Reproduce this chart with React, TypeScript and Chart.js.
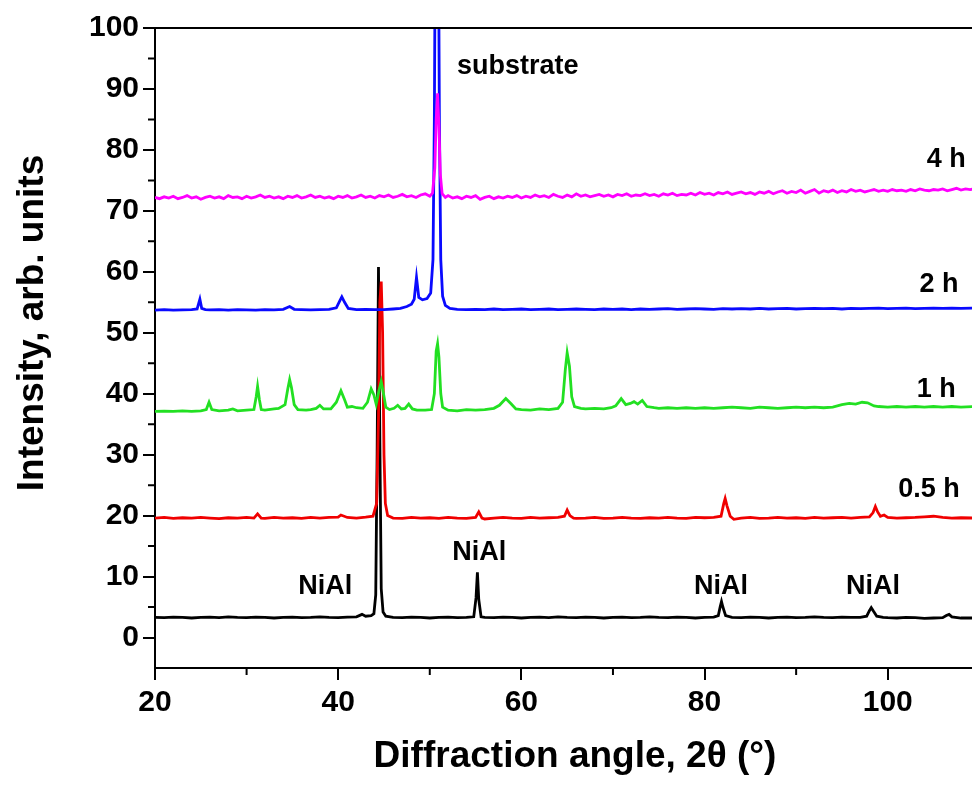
import { useEffect, useRef } from "react";
import { Chart, registerables } from "chart.js";

Chart.register(...registerables);

type P = [number, number];

// 2θ (deg), intensity (arb. units)
const pattern4h: P[] = [
  [20, 72.2], [20.5, 72.0], [21, 72.3], [21.5, 72.1], [22, 72.4], [22.5, 72.0], [23, 72.2], [23.5, 72.5],
  [24, 72.1], [24.5, 72.3], [25, 71.9], [25.5, 72.2], [26, 72.4], [26.5, 72.1], [27, 72.3], [27.5, 72.0],
  [28, 72.5], [28.5, 72.2], [29, 72.3], [29.5, 72.0], [30, 72.4], [30.5, 72.1], [31, 72.3], [31.5, 72.6],
  [32, 72.2], [32.5, 72.4], [33, 72.1], [33.5, 72.3], [34, 72.0], [34.5, 72.4], [35, 72.2], [35.5, 72.5],
  [36, 72.1], [36.5, 72.3], [37, 72.6], [37.5, 72.2], [38, 72.4], [38.5, 72.1], [39, 72.3], [39.5, 72.0],
  [40, 72.4], [40.5, 72.2], [41, 72.5], [41.5, 72.1], [42, 72.3], [42.5, 72.6], [43, 72.2], [43.5, 72.4],
  [44, 72.1], [44.5, 72.5], [45, 72.3], [45.5, 72.6], [46, 72.2], [46.5, 72.4], [47, 72.7], [47.5, 72.3],
  [48, 72.5], [48.5, 72.2], [49, 72.6], [49.5, 72.8], [50, 72.4], [50.3, 72.9], [50.55, 77], [50.7, 85],
  [50.85, 89.3], [51.0, 84], [51.15, 76], [51.35, 72.8], [51.7, 72.2], [52, 72.5], [52.5, 72.1], [53, 72.3],
  [53.5, 72.0], [54, 72.4], [54.5, 72.2], [55, 72.5], [55.5, 71.9], [56, 72.2], [56.5, 72.4], [57, 72.0],
  [57.5, 72.3], [58, 72.1], [58.5, 72.4], [59, 72.2], [59.5, 72.5], [60, 72.1], [60.5, 72.4], [61, 72.2],
  [61.5, 72.6], [62, 72.3], [62.5, 72.5], [63, 72.2], [63.5, 72.7], [64, 72.4], [64.5, 72.2], [65, 72.6],
  [65.5, 72.3], [66, 72.8], [66.5, 72.4], [67, 72.6], [67.5, 72.3], [68, 72.5], [68.5, 72.7], [69, 72.4],
  [69.5, 72.6], [70, 72.3], [70.5, 72.7], [71, 72.5], [71.5, 72.8], [72, 72.4], [72.5, 72.6], [73, 72.5],
  [73.5, 72.8], [74, 72.5], [74.5, 72.7], [75, 72.4], [75.5, 72.8], [76, 72.6], [76.5, 72.9], [77, 72.5],
  [77.5, 72.7], [78, 72.6], [78.5, 72.9], [79, 72.6], [79.5, 73.0], [80, 72.7], [80.5, 72.9], [81, 72.6],
  [81.5, 73.0], [82, 72.8], [82.5, 73.1], [83, 72.7], [83.5, 72.9], [84, 73.1], [84.5, 72.8], [85, 73.0],
  [85.5, 72.7], [86, 73.1], [86.5, 72.9], [87, 73.2], [87.5, 72.8], [88, 73.1], [88.5, 73.3], [89, 72.9],
  [89.5, 73.2], [90, 73.0], [90.5, 73.4], [91, 72.9], [91.5, 73.2], [92, 73.5], [92.5, 72.9], [93, 73.3],
  [93.5, 73.1], [94, 73.4], [94.5, 73.0], [95, 73.3], [95.5, 73.1], [96, 73.5], [96.5, 73.2], [97, 73.4],
  [97.5, 73.1], [98, 73.3], [98.5, 73.5], [99, 73.2], [99.5, 73.4], [100, 73.2], [100.5, 73.5], [101, 73.3],
  [101.5, 73.4], [102, 73.2], [102.5, 73.5], [103, 73.3], [103.5, 73.6], [104, 73.4], [104.5, 73.3], [105, 73.5],
  [105.5, 73.4], [106, 73.6], [106.5, 73.3], [107, 73.5], [107.5, 73.7], [108, 73.4], [108.5, 73.6], [109, 73.5],
  [109.5, 73.6],
];

const pattern2h: P[] = [
  [20, 53.7], [21, 53.8], [22, 53.7], [23, 53.75], [24, 53.8], [24.6, 53.9], [24.9, 55.5], [25.1, 54.0],
  [25.5, 53.8], [26, 53.75], [27, 53.8], [28, 53.7], [29, 53.8], [30, 53.75], [31, 53.7], [32, 53.8],
  [33, 53.75], [34, 53.85], [34.7, 54.3], [35.2, 53.85], [36, 53.8], [37, 53.75], [38, 53.8], [39, 53.85],
  [39.8, 54.1], [40.2, 55.3], [40.4, 55.9], [40.7, 55.0], [41.1, 54.0], [42, 53.8], [43, 53.85], [44, 53.8],
  [45, 53.8], [46, 53.9], [46.8, 54.0], [47.5, 54.3], [48.0, 54.7], [48.3, 55.5], [48.55, 59.1], [48.8, 55.8],
  [49.2, 55.4], [49.7, 55.6], [50.1, 56.5], [50.35, 62], [50.5, 85], [50.6, 115], [50.95, 115], [51.05, 85],
  [51.2, 62], [51.4, 56], [51.7, 54.5], [52.2, 54.0], [53, 53.85], [54, 53.8], [55, 53.85], [56, 53.8],
  [57, 53.9], [58, 53.8], [59, 53.85], [60, 53.9], [61, 53.8], [62, 53.85], [63, 53.9], [64, 53.8],
  [65, 53.85], [66, 53.9], [67, 53.85], [68, 53.8], [69, 53.9], [70, 53.85], [71, 53.9], [72, 53.8],
  [73, 53.9], [74, 53.85], [75, 53.9], [76, 53.95], [77, 53.85], [78, 53.9], [79, 53.95], [80, 53.9],
  [81, 53.85], [82, 53.95], [83, 53.9], [84, 53.95], [85, 53.9], [86, 54.0], [87, 53.9], [88, 53.95],
  [89, 54.0], [90, 53.9], [91, 53.95], [92, 54.0], [93, 53.95], [94, 54.0], [95, 53.9], [96, 54.0],
  [97, 53.95], [98, 54.0], [99, 54.05], [100, 53.95], [101, 54.0], [102, 54.05], [103, 53.95], [104, 54.0],
  [105, 54.05], [106, 54.0], [107, 54.05], [108, 54.0], [109.5, 54.05],
];

const pattern1h: P[] = [
  [20, 37.1], [21, 37.15], [22, 37.1], [23, 37.2], [24, 37.1], [25, 37.2], [25.6, 37.4], [25.9, 38.6],
  [26.2, 37.4], [27, 37.2], [28, 37.3], [28.5, 37.5], [29, 37.2], [30, 37.3], [30.8, 37.4], [31.05, 39.5],
  [31.2, 41.2], [31.4, 39.0], [31.6, 37.4], [32, 37.3], [33, 37.5], [33.5, 37.6], [34.2, 38.2], [34.5, 40.8],
  [34.7, 42.3], [34.9, 41.0], [35.2, 38.2], [35.6, 37.4], [36.5, 37.3], [37, 37.4], [37.6, 37.6], [38.0, 38.1],
  [38.4, 37.5], [39.2, 37.5], [39.8, 38.6], [40.3, 40.5], [40.7, 39.0], [41.0, 37.8], [41.5, 37.9], [42, 37.7],
  [42.7, 37.6], [43.2, 38.6], [43.6, 40.8], [43.9, 39.8], [44.15, 38.3], [44.45, 40.5], [44.7, 42.0], [44.95, 40.0],
  [45.2, 37.8], [45.6, 37.4], [46.1, 37.6], [46.5, 38.1], [46.9, 37.5], [47.3, 37.6], [47.7, 38.3], [48.1, 37.5],
  [48.6, 37.3], [49.5, 37.3], [50.2, 37.4], [50.5, 40.0], [50.7, 47.0], [50.85, 48.2], [51.0, 46.0], [51.2, 40.0],
  [51.4, 37.8], [52, 37.3], [53, 37.2], [54, 37.4], [55, 37.3], [56, 37.4], [57, 37.6], [57.6, 38.1],
  [58.3, 39.2], [58.9, 38.3], [59.4, 37.5], [60, 37.4], [61, 37.3], [62, 37.5], [63, 37.4], [64, 37.6],
  [64.5, 38.6], [64.8, 44.0], [65.0, 46.7], [65.25, 44.5], [65.5, 39.5], [65.8, 37.9], [66.5, 37.6], [67, 37.5],
  [68, 37.6], [69, 37.5], [69.8, 37.7], [70.3, 38.0], [70.9, 39.2], [71.4, 38.2], [71.9, 38.4], [72.3, 38.7],
  [72.7, 38.3], [73.2, 38.9], [73.7, 37.9], [74.5, 37.7], [75, 37.6], [76, 37.7], [77, 37.6], [78, 37.7],
  [79, 37.6], [80, 37.7], [81, 37.6], [82, 37.7], [83, 37.8], [84, 37.7], [85, 37.6], [86, 37.8],
  [87, 37.7], [88, 37.6], [89, 37.7], [90, 37.8], [91, 37.7], [92, 37.8], [93, 37.7], [94, 37.8],
  [95, 38.2], [95.8, 38.4], [96.5, 38.3], [97.2, 38.6], [97.8, 38.5], [98.5, 38.0], [99, 37.9], [100, 37.8],
  [101, 37.9], [102, 37.8], [103, 37.9], [104, 37.8], [105, 37.9], [106, 37.8], [107, 37.9], [108, 37.8],
  [109.5, 37.9],
];

const pattern05h: P[] = [
  [20, 19.6], [21, 19.7], [22, 19.55], [23, 19.65], [24, 19.6], [25, 19.7], [26, 19.6], [27, 19.5],
  [28, 19.65], [29, 19.6], [30, 19.7], [30.8, 19.6], [31.2, 20.3], [31.6, 19.6], [32, 19.55], [33, 19.7],
  [34, 19.6], [35, 19.65], [36, 19.55], [37, 19.7], [38, 19.6], [39, 19.7], [40, 19.75], [40.3, 20.1],
  [41, 19.7], [42, 19.6], [43, 19.75], [43.8, 19.9], [44.2, 22.0], [44.4, 36.0], [44.55, 55.0], [44.7, 58.4],
  [44.85, 50.0], [45.0, 30.0], [45.15, 22.0], [45.4, 20.0], [46, 19.6], [47, 19.55], [48, 19.7], [49, 19.6],
  [50, 19.65], [51, 19.55], [52, 19.7], [53, 19.6], [54, 19.55], [55, 19.7], [55.35, 20.6], [55.7, 19.6],
  [56, 19.45], [57, 19.6], [58, 19.7], [59, 19.6], [60, 19.55], [61, 19.7], [62, 19.6], [63, 19.65],
  [64, 19.7], [64.7, 19.9], [65.0, 20.9], [65.3, 20.0], [65.7, 19.6], [66, 19.55], [67, 19.6], [68, 19.7],
  [69, 19.55], [70, 19.6], [71, 19.7], [72, 19.6], [73, 19.55], [74, 19.65], [75, 19.6], [76, 19.7],
  [77, 19.6], [78, 19.55], [79, 19.7], [80, 19.65], [81, 19.7], [81.8, 19.9], [82.1, 22.0], [82.25, 22.8],
  [82.45, 21.6], [82.8, 19.9], [83.2, 19.4], [84, 19.6], [85, 19.7], [86, 19.55], [87, 19.6], [88, 19.7],
  [89, 19.6], [90, 19.65], [91, 19.55], [92, 19.7], [93, 19.6], [94, 19.65], [95, 19.7], [96, 19.6],
  [97, 19.7], [98, 19.8], [98.4, 20.5], [98.65, 21.5], [98.9, 20.6], [99.2, 19.9], [99.6, 20.1], [100, 19.7],
  [101, 19.6], [102, 19.65], [103, 19.7], [104, 19.8], [105, 19.9], [106, 19.7], [107, 19.6], [108, 19.65],
  [109.5, 19.6],
];

const patternInitial: P[] = [
  [20, 3.3], [21, 3.25], [22, 3.35], [23, 3.3], [24, 3.2], [25, 3.3], [26, 3.35], [27, 3.25],
  [28, 3.4], [29, 3.3], [30, 3.25], [31, 3.35], [32, 3.3], [33, 3.2], [34, 3.3], [35, 3.35],
  [36, 3.25], [37, 3.3], [38, 3.4], [39, 3.3], [40, 3.25], [41, 3.35], [42, 3.4], [42.6, 3.8],
  [43, 3.5], [43.6, 3.6], [43.9, 3.9], [44.1, 7.0], [44.25, 30.0], [44.4, 60.8], [44.55, 32.0], [44.7, 8.0],
  [44.9, 4.2], [45.2, 3.5], [46, 3.3], [47, 3.25], [48, 3.35], [49, 3.3], [50, 3.2], [51, 3.3],
  [52, 3.35], [53, 3.25], [54, 3.3], [54.8, 3.4], [55.05, 6.5], [55.2, 10.7], [55.35, 6.2], [55.6, 3.4],
  [56, 3.3], [57, 3.25], [58, 3.35], [59, 3.3], [60, 3.2], [61, 3.3], [62, 3.35], [63, 3.25],
  [64, 3.4], [65, 3.3], [66, 3.25], [67, 3.35], [68, 3.3], [69, 3.2], [70, 3.3], [71, 3.35],
  [72, 3.25], [73, 3.3], [74, 3.4], [75, 3.3], [76, 3.25], [77, 3.35], [78, 3.3], [79, 3.2],
  [80, 3.3], [81, 3.35], [81.5, 3.6], [81.7, 5.0], [81.85, 5.9], [82.0, 5.0], [82.3, 3.6], [83, 3.3],
  [84, 3.25], [85, 3.35], [86, 3.3], [87, 3.2], [88, 3.3], [89, 3.35], [90, 3.25], [91, 3.3],
  [92, 3.4], [93, 3.3], [94, 3.25], [95, 3.35], [96, 3.3], [97, 3.3], [97.7, 3.5], [98.0, 4.4],
  [98.2, 4.9], [98.45, 4.3], [98.8, 3.5], [99.5, 3.3], [100, 3.25], [101, 3.2], [102, 3.3], [103, 3.25],
  [104, 3.15], [105, 3.2], [106, 3.25], [106.4, 3.6], [106.7, 3.8], [107, 3.4], [108, 3.2], [109.5, 3.2],
];

const seriesNames = ["4 h", "2 h", "1 h", "0.5 h", "initial"];
const seriesColors = ["#ff00ff", "#0a0aff", "#22e022", "#f00000", "#000000"];

const xTicks = [20, 40, 60, 80, 100];
const xMinorTicks = [30, 50, 70, 90];
const yTicks = [0, 10, 20, 30, 40, 50, 60, 70, 80, 90, 100];
const yMinorTicks = [5, 15, 25, 35, 45, 55, 65, 75, 85, 95];

const annotationTexts = ["substrate", "4 h", "2 h", "1 h", "0.5 h", "NiAl", "NiAl", "NiAl", "NiAl"];
const annotationX = [59.6, 106.4, 105.6, 105.3, 104.5, 38.6, 55.4, 81.8, 98.4];
const annotationY = [93.6, 78.4, 57.9, 40.7, 24.3, 8.3, 13.9, 8.4, 8.4];

const xTitle = "Diffraction angle, 2\u03b8 (\u00b0)";
const yTitle = "Intensity, arb. units";

const FONT = '"Liberation Sans", Arial, Helvetica, sans-serif';

export default function App() {
  const ref = useRef<HTMLCanvasElement | null>(null);

  useEffect(() => {
    if (!ref.current) return;
    const overlay = {
      id: "overlay",
      afterDraw(chart: any) {
        const { ctx, chartArea } = chart;
        const x = chart.scales.x;
        const y = chart.scales.y;
        ctx.save();
        ctx.strokeStyle = "#000";
        ctx.lineWidth = 2;
        ctx.beginPath();
        ctx.moveTo(chartArea.left - 1, chartArea.top);
        ctx.lineTo(chartArea.right, chartArea.top);
        for (const v of xMinorTicks) {
          const px = x.getPixelForValue(v);
          ctx.moveTo(px, chartArea.bottom);
          ctx.lineTo(px, chartArea.bottom + 7);
        }
        for (const v of yMinorTicks) {
          const py = y.getPixelForValue(v);
          ctx.moveTo(chartArea.left, py);
          ctx.lineTo(chartArea.left - 7, py);
        }
        ctx.stroke();

        ctx.fillStyle = "#000";
        ctx.textAlign = "center";
        ctx.textBaseline = "middle";
        ctx.font = `bold 27px ${FONT}`;
        annotationTexts.forEach((t, i) => {
          ctx.fillText(t, x.getPixelForValue(annotationX[i]), y.getPixelForValue(annotationY[i]));
        });

        ctx.font = `bold 37px ${FONT}`;
        ctx.fillText(xTitle, 575, 757);
        ctx.translate(33, 323);
        ctx.rotate(-Math.PI / 2);
        ctx.fillText(yTitle, 0, 0);
        ctx.restore();
      },
    };

    const chart = new Chart(ref.current, {
      type: "line",
      data: {
        datasets: [pattern4h, pattern2h, pattern1h, pattern05h, patternInitial].map((s, i) => ({
          label: seriesNames[i],
          data: s.map(([a, b]) => ({ x: a, y: b })),
          borderColor: seriesColors[i],
          backgroundColor: seriesColors[i],
          borderWidth: 2.8,
          pointRadius: 0,
          tension: 0,
          fill: false,
        })),
      },
      options: {
        animation: false,
        responsive: false,
        devicePixelRatio: 1,
        layout: { padding: { top: 28, right: 0, left: 0, bottom: 0 } },
        plugins: { legend: { display: false }, tooltip: { enabled: false } },
        scales: {
          x: {
            type: "linear",
            min: 20,
            max: 109.2,
            afterBuildTicks: (s: any) => {
              s.ticks = xTicks.map((v) => ({ value: v }));
            },
            afterFit: (s: any) => {
              s.height = 121;
            },
            grid: { drawOnChartArea: false, drawTicks: true, tickLength: 12, lineWidth: 2, color: "#000" },
            border: { display: true, width: 2, color: "#000" },
            ticks: { color: "#000", font: { family: FONT, size: 30, weight: "bold" }, padding: 5, maxRotation: 0 },
          },
          y: {
            type: "linear",
            min: -5,
            max: 100,
            afterBuildTicks: (s: any) => {
              s.ticks = yTicks.map((v) => ({ value: v }));
            },
            afterFit: (s: any) => {
              s.width = 155;
            },
            grid: { drawOnChartArea: false, drawTicks: true, tickLength: 12, lineWidth: 2, color: "#000" },
            border: { display: true, width: 2, color: "#000" },
            ticks: { color: "#000", font: { family: FONT, size: 30, weight: "bold" }, padding: 4 },
          },
        },
      },
      plugins: [overlay],
    } as any);
    return () => chart.destroy();
  }, []);

  return (
    <div style={{ position: "fixed", left: 0, top: 0, width: 972, height: 789, background: "#fff" }}>
      <canvas ref={ref} width={972} height={789} style={{ width: 972, height: 789, display: "block" }} />
    </div>
  );
}
